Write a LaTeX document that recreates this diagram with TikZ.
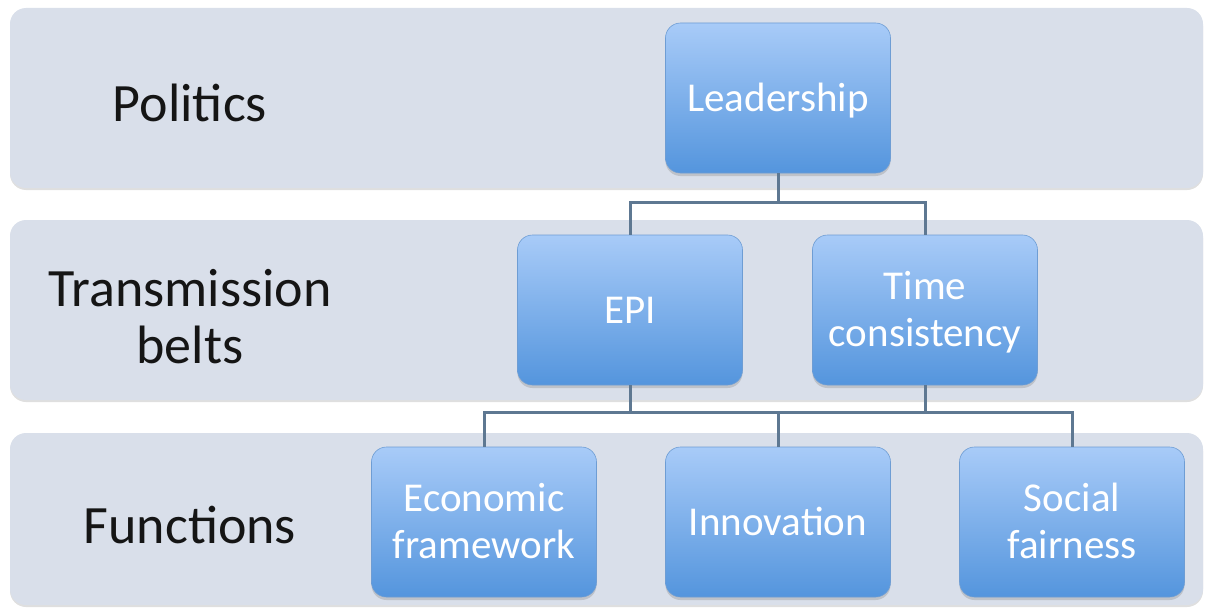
\documentclass[tikz,border=0pt]{standalone}
\usepackage{fontspec}
\setmainfont{Carlito}
\usetikzlibrary{shadows}
\definecolor{bandc}{HTML}{D9DFEA}
\definecolor{linec}{HTML}{5E7892}
\definecolor{boxtop}{HTML}{A8CBF8}
\definecolor{boxbot}{HTML}{5495DD}
\definecolor{boxedge}{HTML}{6E9DD4}
\definecolor{labc}{HTML}{151515}
\newcommand{\bxt}[1]{\raisebox{-4pt}[\height][\depth]{\begin{tabular}{@{}c@{}}#1\end{tabular}}}
\tikzset{
  band/.style={fill=bandc, draw=none, rounded corners=16pt,
    drop shadow={opacity=0.25, shadow xshift=0pt, shadow yshift=-2pt}},
  boxn/.style={rectangle, rounded corners=15pt, minimum width=225pt, minimum height=150pt,
    top color=boxtop, bottom color=boxbot, draw=boxedge, line width=0.6pt,
    text=white, font=\fontsize{41}{47}\selectfont, inner sep=0pt,
    drop shadow={opacity=0.3, shadow xshift=0pt, shadow yshift=-3pt}},
  lab/.style={text=labc, align=center, font=\fontsize{54}{57}\selectfont},
  conn/.style={draw=linec, line width=3pt}
}
\begin{document}
\begin{tikzpicture}[x=1pt,y=-1pt]
\useasboundingbox (0,0) rectangle (1208,610);
% bands
\path[band] (10,8) rectangle (1203,188);
\path[band] (10,220) rectangle (1203,400);
\path[band] (10,433) rectangle (1203,605);
% labels
\node[lab] (lpol) at (190,103) {Politics};
\node[lab] (ltrans) at (190,317) {Transmission\\belts};
\node[lab] (lfun) at (190,525) {Functions};
% junctions
\coordinate (j1) at (778,202);
\coordinate (j2) at (778,412);
% boxes
\node[boxn] (lead) at (778,98) {\bxt{Leadership}};
\node[boxn] (epi) at (630,310) {\bxt{EPI}};
\node[boxn] (time) at (925,310) {\bxt{Time\\consistency}};
\node[boxn] (econ) at (484,522) {\bxt{Economic\\framework}};
\node[boxn] (inno) at (778,522) {\bxt{Innovation}};
\node[boxn] (soc) at (1072,522) {\bxt{Social\\fairness}};
% connectors
\draw[conn] (lead.south) -- (j1) -| (epi.north);
\draw[conn] (j1) -| (time.north);
\draw[conn] (epi.south) -- (epi.south |- j2);
\draw[conn] (time.south) -- (time.south |- j2);
\draw[conn] (econ.north) |- (j2) -| (soc.north);
\draw[conn] (j2) -- (inno.north);
\end{tikzpicture}
\end{document}
